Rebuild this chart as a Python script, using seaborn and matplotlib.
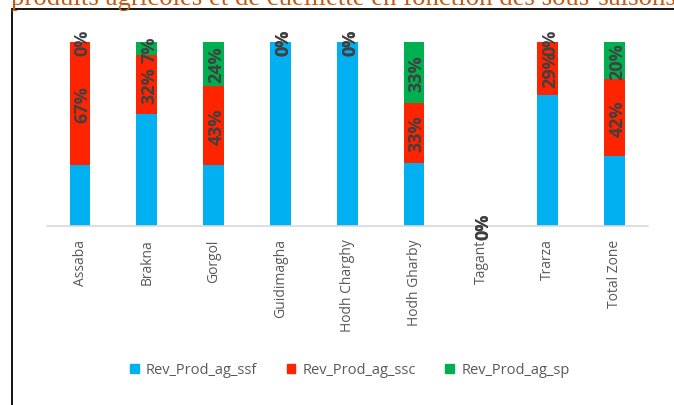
import matplotlib
matplotlib.use("Agg")
import matplotlib.pyplot as plt
import matplotlib.patches as mpatches
import numpy as np
import pandas as pd
import seaborn as sns

# Regions and revenue shares (%) by sub-season
regions = ["Assaba", "Brakna", "Gorgol", "Guidimagha", "Hodh Charghy",
           "Hodh Gharby", "Tagant", "Trarza", "Total Zone"]
ssf = [33, 61, 33, 100, 100, 34, 0, 71, 38]
ssc = [67, 32, 43, 0, 0, 33, 0, 29, 42]
sp = [0, 7, 24, 0, 0, 33, 0, 0, 20]
series_names = ["Rev_Prod_ag_ssf", "Rev_Prod_ag_ssc", "Rev_Prod_ag_sp"]
colors = ["#00B0F0", "#FF2400", "#00B050"]

title_text = "produits agricoles et de cueillette en fonction des sous-saisons"

sns.set_theme(style="white")
plt.rcParams["font.family"] = ["Open Sans", "DejaVu Sans"]

W, H = 674, 406
fig = plt.figure(figsize=(W / 100, H / 100), dpi=100)

ax = fig.add_axes([46.6 / W, 1 - 227 / H, (648 - 46.6) / W, 184 / H])

df = pd.DataFrame({"region": regions, "ssf": ssf, "ssc": ssc, "sp": sp})
df["top_ssc"] = df["ssf"] + df["ssc"]
df["top_sp"] = df["top_ssc"] + df["sp"]

# Stacked bars drawn back to front from cumulative totals
layers = [("top_sp", colors[2]), ("top_ssc", colors[1]), ("ssf", colors[0])]
for col, c in layers:
    sns.barplot(data=df, x="region", y=col, color=c, width=0.31,
                saturation=1, ax=ax, linewidth=0)

ax.set_xlim(-0.5, len(regions) - 0.5)
ax.set_ylim(0, 100)
ax.set_xlabel("")
ax.set_ylabel("")
ax.set_yticks([])
for s in ["top", "right", "left"]:
    ax.spines[s].set_visible(False)
ax.spines["bottom"].set_color("#D9D9D9")
ax.spines["bottom"].set_linewidth(1.2)
ax.tick_params(axis="x", length=0, pad=9)
ax.set_xticks(range(len(regions)))
ax.set_xticklabels(regions, rotation=90, fontsize=10, color="#595959")

# Value labels for the ssc and sp segments
lab_kw = dict(rotation=90, ha="center", va="center", fontsize=13,
              fontweight="bold", color="#404040", clip_on=False)
for i in range(len(regions)):
    ax.text(i + 0.04, ssf[i] + ssc[i] / 2, f"{ssc[i]}%", **lab_kw)
    ax.text(i + 0.04, ssf[i] + ssc[i] + sp[i] / 2, f"{sp[i]}%", **lab_kw)

handles = [mpatches.Patch(color=c, label=n) for c, n in zip(colors, series_names)]
leg = fig.legend(handles=handles, loc="center", bbox_to_anchor=(0.519, 1 - 371 / H),
                 ncol=3, frameon=False, handlelength=0.6, handleheight=0.6,
                 handletextpad=0.5, columnspacing=2.0,
                 prop={"family": "Open Sans", "size": 10.5})
for t in leg.get_texts():
    t.set_color("#595959")

# Outer frame of the chart area
frame = mpatches.Rectangle((12 / W, -0.2), 2.0, 1.2 - 9.5 / H, transform=fig.transFigure,
                           fill=False, edgecolor="black", linewidth=1.3)
fig.patches.append(frame)

fig.text(11 / W, 1 - 5 / H, title_text, ha="left", va="baseline",
         fontsize=19.3, color="#C55A11", family="Liberation Serif")

fig.savefig("out.png", dpi=100)
